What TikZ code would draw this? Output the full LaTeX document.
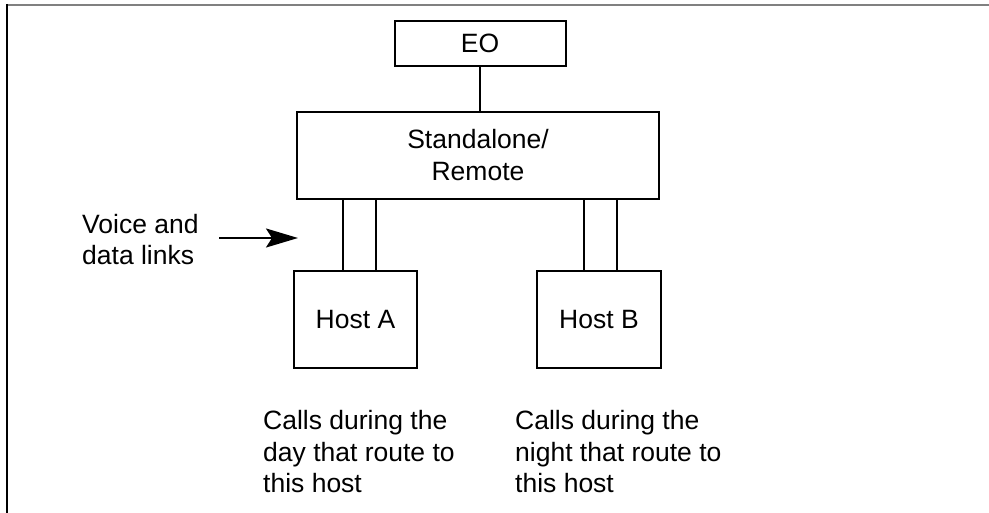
\documentclass[tikz,border=0pt]{standalone}
\usepackage{fontspec}
\setmainfont{Liberation Sans}
\usetikzlibrary{positioning,arrows.meta,calc}
\definecolor{Frame}{RGB}{128,128,128}

\begin{document}
\begin{tikzpicture}[x=1pt,y=-1pt,
  unit/.style={draw,line width=2pt,inner sep=0pt,align=center,font=\fontsize{26.5}{32}\selectfont},
  link/.style={line width=2pt},
  note/.style={anchor=north west,inner sep=0pt,align=left,font=\fontsize{26.5}{31.5}\selectfont},
  pointer/.style={-{Stealth[length=32pt,width=19pt,inset=6pt]},line width=2pt}]
\useasboundingbox (0,0) rectangle (989,513);
% frame
\draw[Frame,line width=2.2pt] (7,5) -- (989,5);
\draw[line width=2pt] (7,4) -- (7,513);
% units
\node[unit,minimum width=171,minimum height=45] (eo) at (480,43.5) {EO};
\node[unit,minimum width=362,minimum height=87] (sr) at (478,155.5) {Standalone/\\Remote};
\node[unit,minimum width=123,minimum height=97] (hosta) at (355.5,319.5) {Host A};
\node[unit,minimum width=124,minimum height=97] (hostb) at (599,319.5) {Host B};
\draw[link] (eo) -- (eo.south |- sr.north);
% voice and data links
\draw[link] ([xshift=-12.5pt]hosta.north) -- ([xshift=-12.5pt]hosta.north |- sr.south);
\draw[link] ([xshift=20.5pt]hosta.north) -- ([xshift=20.5pt]hosta.north |- sr.south);
\draw[link] ([xshift=-15pt]hostb.north) -- ([xshift=-15pt]hostb.north |- sr.south);
\draw[link] ([xshift=18pt]hostb.north) -- ([xshift=18pt]hostb.north |- sr.south);
% notes
\node[note] (voice) at (82,214) {Voice and\\data links};
\coordinate (tail) at (219,238);
\coordinate (tip) at (298,238);
\draw[pointer] (tail) -- (tip);
\node[note] (day) at (263,410.5) {Calls during the\\day that route to\\this host};
\node[note] (night) at (515,410.5) {Calls during the\\night that route to\\this host};
\end{tikzpicture}
\end{document}
